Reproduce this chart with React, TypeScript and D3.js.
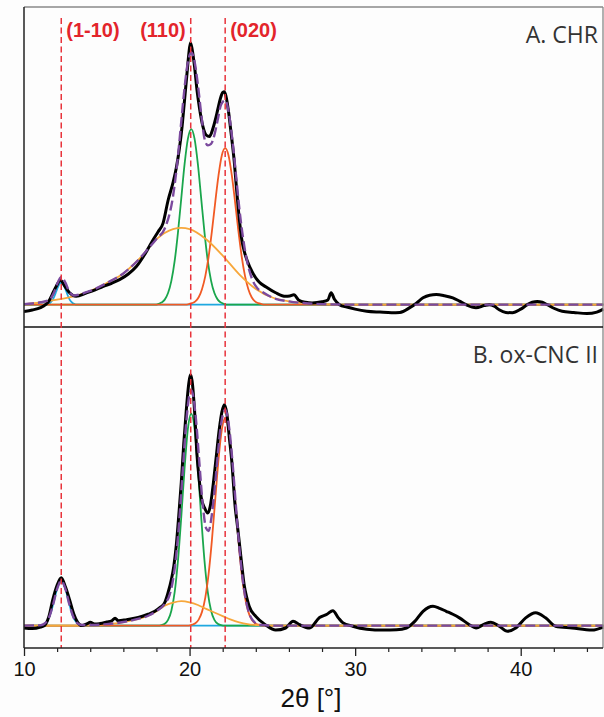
import React, { useEffect, useRef } from "react";
import * as d3 from "d3";

// 2θ positions of the lattice planes and their labels
const planeLabels = ["(1-10)", "(110)", "(020)"];
const planePositions = [12.25, 20.07, 22.15];

const majorTicks = [10, 20, 30, 40];
const minorTicks = [12, 14, 16, 18, 22, 24, 26, 28, 32, 34, 36, 38, 42, 44];
const panelTitles = ["A. CHR", "B. ox-CNC II"];

// ---- Panel A: CHR ----
const chrData = [
  [10.0, -2.3], [10.5, -1.8], [11.0, -1.0], [11.3, 0], [11.5, 1.2], [11.7, 3.4], [11.95, 6.2], [12.2, 8.2],
  [12.45, 6.3], [12.75, 4.0], [13.15, 2.8], [13.75, 3.9], [14.3, 5.0], [14.76, 6.1], [15.3, 7.2], [15.77, 8.4],
  [16.3, 10.3], [16.8, 12.9], [17.4, 17.9], [17.8, 21.8], [18.1, 24.5], [18.4, 27.4], [18.7, 35], [19.0, 41],
  [19.2, 46], [19.4, 53], [19.55, 60], [19.7, 69], [19.85, 78], [19.95, 84], [20.05, 88], [20.15, 86],
  [20.3, 80], [20.45, 72], [20.6, 66], [20.8, 60], [21.0, 57], [21.2, 56.5], [21.4, 59], [21.55, 62],
  [21.7, 65.5], [21.85, 69], [22.0, 71.3], [22.1, 71.5], [22.2, 70], [22.35, 65], [22.5, 58], [22.7, 48],
  [22.85, 38], [23.0, 29], [23.15, 22], [23.3, 18], [23.5, 14.5], [23.8, 10.8], [24.2, 7.6], [24.6, 6.0],
  [25.2, 4.0], [25.8, 2.8], [26.05, 2.9], [26.3, 3.3], [26.6, 1.5], [27.0, 0.8], [27.4, 0.6], [28.0, 1.0],
  [28.35, 1.6], [28.55, 4.0], [28.75, 1.8], [29.05, 0], [29.5, -0.8], [30.0, -1.5], [30.7, -2.2], [31.5, -2.5],
  [32.2, -2.7], [32.7, -2.6], [33.3, -1.0], [33.7, 0.5], [34.1, 2.3], [34.5, 3.2], [34.9, 3.4], [35.4, 3.0],
  [35.9, 2.3], [36.3, 1.2], [36.7, 0], [37.3, -1.0], [37.8, -0.3], [38.1, 0], [38.4, -0.5], [38.7, -1.7],
  [39.1, -2.6], [39.5, -2.7], [40.0, -1.5], [40.4, 0], [40.7, 0.8], [41.0, 1.1], [41.3, 0.8], [41.6, 0],
  [42.0, -1.2], [42.5, -2.2], [43.2, -2.6], [44.0, -3.0], [44.6, -2.5], [45.0, -1.5],
];
const chrFit = [
  [10, 0.2], [10.5, 0.4], [11, 0.8], [11.5, 1.5], [11.8, 3.9], [12.0, 6.9], [12.25, 9.3], [12.5, 7.4],
  [12.7, 4.8], [13.0, 3.1], [13.5, 3.7], [14, 4.6], [15, 7.3], [16, 10.5], [17, 15.6], [17.5, 18.8],
  [18, 22.1], [18.5, 25.6], [19.0, 36.4], [19.3, 49.9], [19.5, 61.6], [19.7, 73], [19.9, 81.5], [20.1, 84.7],
  [20.3, 81.7], [20.5, 74], [20.7, 64.2], [20.9, 55.8], [21.1, 53.5], [21.3, 54], [21.5, 57], [21.7, 62.1],
  [21.9, 67.2], [22.15, 68.7], [22.4, 63.4], [22.6, 54.6], [22.8, 43.8], [23.0, 32.6], [23.2, 23.6], [23.4, 16.6],
  [23.6, 11.7], [23.8, 8.3], [24.0, 6.2], [24.5, 3.9], [25, 2.4], [26, 1.1], [27, 0.5], [28, 0.2], [30, 0], [45, 0],
];
const chrPeak1_10 = [
  [10, 0], [11.35, 0], [11.45, 0.2], [11.55, 0.5], [11.65, 1.0], [11.75, 1.8], [11.85, 3.0], [11.95, 4.5],
  [12.05, 5.9], [12.15, 7.0], [12.25, 7.4], [12.35, 7.0], [12.45, 5.9], [12.55, 4.5], [12.65, 3.0], [12.75, 1.8],
  [12.85, 1.0], [12.95, 0.5], [13.05, 0.2], [13.15, 0], [45, 0],
];
const chrPeak110 = [
  [10, 0], [17.9, 0], [18.1, 0.2], [18.3, 0.7], [18.5, 1.7], [18.7, 3.9], [18.9, 8.0], [19.1, 14.7],
  [19.3, 24.3], [19.5, 35.8], [19.7, 47.3], [19.9, 55.8], [20.1, 59], [20.3, 55.8], [20.5, 47.3], [20.7, 35.8],
  [20.9, 24.3], [21.1, 14.7], [21.3, 8.0], [21.5, 3.9], [21.7, 1.7], [21.9, 0.7], [22.1, 0.2], [22.3, 0], [45, 0],
];
const chrPeak020 = [
  [10, 0], [19.75, 0], [19.95, 0.2], [20.15, 0.5], [20.35, 1.1], [20.55, 2.5], [20.75, 5.2], [20.95, 9.6],
  [21.15, 16.1], [21.35, 24.7], [21.55, 34.4], [21.75, 43.5], [21.95, 50.2], [22.15, 52.6], [22.35, 50.2],
  [22.55, 43.5], [22.75, 34.4], [22.95, 24.7], [23.15, 16.1], [23.35, 9.6], [23.55, 5.2], [23.75, 2.5],
  [23.95, 1.1], [24.15, 0.5], [24.35, 0.2], [24.55, 0], [45, 0],
];
const chrAmorphous = [
  [10, 0.2], [11, 0.8], [12, 1.7], [13, 2.8], [14, 4.6], [15, 7.3], [16, 10.5], [17, 15.6], [18, 22],
  [19, 25.4], [19.5, 25.8], [20, 25.4], [21, 22], [22, 16.5], [23, 10.2], [24, 5.3], [25, 2.4], [26, 1.1],
  [27, 0.5], [28, 0.2], [30, 0], [45, 0],
];

// ---- Panel B: ox-CNC II ----
const cncData = [
  [10.0, -0.8], [10.5, -1.0], [11.0, -0.5], [11.24, 0], [11.5, 3.0], [11.74, 8.7], [12.0, 13.5], [12.25, 16],
  [12.5, 13], [12.75, 8.7], [13.0, 4.0], [13.25, 1.0], [13.5, 0], [13.8, 0.6], [14.0, 1.1], [14.3, 0.5],
  [14.6, 0.7], [15.0, 1.2], [15.3, 1.6], [15.5, 2.5], [15.7, 1.6], [16.2, 2.0], [16.9, 2.7], [17.5, 3.8],
  [17.9, 4.8], [18.2, 6.0], [18.5, 7.7], [18.7, 11], [18.9, 15.4], [19.05, 20], [19.2, 27], [19.35, 37],
  [19.5, 48], [19.65, 61], [19.8, 72], [19.95, 81], [20.05, 84], [20.15, 82], [20.3, 72], [20.45, 57],
  [20.6, 48], [20.7, 43], [20.9, 39.5], [21.1, 37.7], [21.25, 40], [21.4, 46], [21.6, 56], [21.8, 66],
  [21.95, 71.5], [22.1, 74], [22.25, 71], [22.4, 63], [22.55, 55], [22.75, 40], [22.9, 33], [23.0, 28],
  [23.15, 20.5], [23.3, 13.5], [23.45, 9.5], [23.6, 6.5], [24.0, 3.1], [24.6, 0.2], [25.2, -1.5], [25.8, -0.8],
  [26.25, 1.5], [26.65, 0.3], [27.25, -0.8], [27.85, 2.7], [28.3, 3.8], [28.65, 5.0], [29.0, 2.5], [29.25, 1.0],
  [29.85, -0.2], [30.7, -1.2], [31.7, -1.5], [32.5, -1.4], [33.1, -0.8], [33.6, 1.4], [34.1, 4.8], [34.7, 6.5],
  [35.1, 5.8], [35.5, 4.8], [35.9, 3.8], [36.3, 2.6], [36.9, 0.3], [37.3, -0.8], [37.8, 0.5], [38.2, 1.1],
  [38.7, -0.2], [39.2, -1.9], [39.7, -0.8], [40.3, 2.6], [40.9, 4.3], [41.5, 2.6], [42.1, -0.2], [43.1, -0.8],
  [44.3, -1.5], [45.0, -0.5],
];
const cncFit = [
  [10, 0], [11, 0.1], [11.25, 0.7], [11.5, 2.6], [11.75, 6.9], [12.0, 12.3], [12.25, 15], [12.5, 12.3],
  [12.75, 6.9], [13.0, 2.6], [13.25, 0.7], [13.5, 0.2], [14, 0.2], [15, 0.5], [16, 1.2], [17, 2.4],
  [17.5, 3.3], [18, 4.9], [18.5, 7.3], [18.8, 10.4], [19.0, 15.3], [19.2, 23.9], [19.4, 36.8], [19.6, 52.9],
  [19.8, 68.1], [20.0, 77.6], [20.1, 78.8], [20.2, 77.4], [20.4, 68.2], [20.6, 53.9], [20.8, 40.3], [21.0, 32.6],
  [21.15, 31.7], [21.3, 35.4], [21.5, 44.9], [21.7, 57], [21.9, 67.3], [22.15, 72.3], [22.4, 65.9], [22.6, 54.3],
  [22.8, 40], [23.0, 26.6], [23.2, 15.8], [23.4, 8.5], [23.6, 4.1], [23.8, 1.9], [24.0, 0.8], [24.3, 0.2],
  [25, 0], [45, 0],
];
const cncPeak1_10 = [
  [10, 0], [10.95, 0], [11.05, 0.2], [11.15, 0.3], [11.25, 0.7], [11.35, 1.2], [11.45, 2.0], [11.55, 3.2],
  [11.65, 4.9], [11.75, 6.9], [11.85, 9.1], [11.95, 11.3], [12.05, 13.2], [12.15, 14.5], [12.25, 15],
  [12.35, 14.5], [12.45, 13.2], [12.55, 11.3], [12.65, 9.1], [12.75, 6.9], [12.85, 4.9], [12.95, 3.2],
  [13.05, 2.0], [13.15, 1.2], [13.25, 0.7], [13.35, 0.3], [13.45, 0.2], [13.55, 0], [45, 0],
];
const cncPeak110 = [
  [10, 0], [18.1, 0], [18.3, 0.2], [18.5, 0.6], [18.7, 1.9], [18.9, 5.0], [19.1, 11.2], [19.3, 21.8],
  [19.5, 36.5], [19.7, 52.8], [19.9, 66], [20.1, 71], [20.3, 66], [20.5, 52.8], [20.7, 36.5], [20.9, 21.8],
  [21.1, 11.2], [21.3, 5.0], [21.5, 1.9], [21.7, 0.6], [21.9, 0.2], [22.1, 0], [45, 0],
];
const cncPeak020 = [
  [10, 0], [19.95, 0], [20.15, 0.3], [20.35, 0.8], [20.55, 2.0], [20.75, 4.6], [20.95, 9.4], [21.15, 17.3],
  [21.35, 28.6], [21.55, 42.2], [21.75, 55.7], [21.95, 65.7], [22.15, 69.5], [22.35, 65.7], [22.55, 55.7],
  [22.75, 42.2], [22.95, 28.6], [23.15, 17.3], [23.35, 9.4], [23.55, 4.6], [23.75, 2.0], [23.95, 0.8],
  [24.15, 0.3], [24.35, 0.1], [24.55, 0], [45, 0],
];
const cncAmorphous = [
  [10, 0], [13, 0], [14, 0.2], [15, 0.5], [16, 1.2], [17, 2.4], [17.5, 3.3], [18, 4.8], [18.5, 6.7],
  [19, 7.7], [19.5, 8.2], [20, 7.8], [20.5, 6.9], [21, 5.6], [21.5, 4.4], [22, 3.2], [22.5, 2.0],
  [23, 1.1], [23.5, 0.5], [24, 0.2], [24.5, 0], [45, 0],
];

const panels = [
  { title: panelTitles[0], data: chrData, fit: chrFit, c1: chrPeak1_10, c2: chrPeak110, c3: chrPeak020, am: chrAmorphous },
  { title: panelTitles[1], data: cncData, fit: cncFit, c1: cncPeak1_10, c2: cncPeak110, c3: cncPeak020, am: cncAmorphous },
];

const App = () => {
  const ref = useRef(null);

  useEffect(() => {
    const width = 604;
    const height = 717;
    const left = 24;
    const right = 603.5;
    const top = 7;
    const mid = 327;
    const bottom = 648;

    const svg = d3.select(ref.current).attr("width", width).attr("height", height);
    svg.selectAll("*").remove();

    svg.append("rect").attr("width", width).attr("height", height).attr("fill", "#fdfdfd");

    const x = d3.scaleLinear().domain([10, 45]).range([left, right]);

    const bands = [[top, mid], [mid, bottom]];

    panels.forEach((p, i) => {
      const [y0, y1] = bands[i];
      const y = d3.scaleLinear().domain([-7.5, 100]).range([y1, y0]);

      svg.append("clipPath").attr("id", "clip" + i)
        .append("rect").attr("x", left).attr("y", y0).attr("width", right - left).attr("height", y1 - y0);

      const g = svg.append("g").attr("clip-path", `url(#clip${i})`);
      const line = d3.line().x(d => x(d[0])).y(d => y(d[1])).curve(d3.curveMonotoneX);

      // fitted components, then measured data, then total fit on top
      const comps = [
        [p.c1, "#1fa8e0"],
        [p.c2, "#1aa64c"],
        [p.c3, "#f15a24"],
        [p.am, "#f7a73b"],
      ];
      comps.forEach(([d, c]) => {
        g.append("path").attr("d", line(d)).attr("fill", "none")
          .attr("stroke", c).attr("stroke-width", 1.8);
      });

      g.append("path").attr("d", line(p.data)).attr("fill", "none")
        .attr("stroke", "#000").attr("stroke-width", 3).attr("stroke-linejoin", "round");

      g.append("path").attr("d", line(p.fit)).attr("fill", "none")
        .attr("stroke", "#7b4a9e").attr("stroke-width", 2.4).attr("stroke-dasharray", "10,4");

      svg.append("text")
        .attr("x", 598).attr("y", y0 + 36)
        .attr("text-anchor", "end")
        .style("font-family", "'Open Sans', sans-serif")
        .style("font-size", "23px")
        .attr("fill", "#333")
        .text(p.title);
    });

    // frame
    svg.append("line").attr("x1", left).attr("x2", 603).attr("y1", top).attr("y2", top)
      .attr("stroke", "#888").attr("stroke-width", 1.3);
    svg.append("line").attr("x1", 603).attr("x2", 603).attr("y1", top).attr("y2", bottom)
      .attr("stroke", "#888").attr("stroke-width", 1.3);
    svg.append("line").attr("x1", left).attr("x2", 603).attr("y1", mid).attr("y2", mid)
      .attr("stroke", "#111").attr("stroke-width", 1.5);
    svg.append("line").attr("x1", left).attr("x2", left).attr("y1", top).attr("y2", bottom)
      .attr("stroke", "#222").attr("stroke-width", 1.5);

    // plane markers
    planePositions.forEach((v, i) => {
      svg.append("line")
        .attr("x1", x(v)).attr("x2", x(v)).attr("y1", 18).attr("y2", bottom)
        .attr("stroke", "#e8343c").attr("stroke-width", 1.5).attr("stroke-dasharray", "6,3.5");
      svg.append("text")
        .attr("x", i === 1 ? x(v) - 5 : x(v) + 5)
        .attr("y", 37)
        .attr("text-anchor", i === 1 ? "end" : "start")
        .style("font-family", "'Liberation Sans', Arial, sans-serif")
        .style("font-size", "20px")
        .style("font-weight", "bold")
        .attr("fill", "#e3242b")
        .text(planeLabels[i]);
    });

    // x axis
    const axis = svg.append("g").attr("transform", `translate(0,${bottom})`)
      .call(d3.axisBottom(x).tickValues(majorTicks).tickSize(8).tickPadding(6).tickFormat(d3.format("d")));
    axis.select(".domain").remove();
    axis.selectAll("line").attr("stroke", "#222").attr("stroke-width", 1.3);
    axis.selectAll("text")
      .style("font-family", "'Liberation Sans', Arial, sans-serif")
      .style("font-size", "20px")
      .attr("fill", "#111");

    const minor = svg.append("g").attr("transform", `translate(0,${bottom})`)
      .call(d3.axisBottom(x).tickValues(minorTicks).tickSize(4).tickFormat(() => ""));
    minor.select(".domain").remove();
    minor.selectAll("line").attr("stroke", "#222").attr("stroke-width", 1.2);

    svg.append("line").attr("x1", left).attr("x2", 603).attr("y1", bottom).attr("y2", bottom)
      .attr("stroke", "#222").attr("stroke-width", 1.5);

    svg.append("text")
      .attr("x", 311).attr("y", 707)
      .attr("text-anchor", "middle")
      .style("font-family", "'Liberation Sans', Arial, sans-serif")
      .style("font-size", "26px")
      .attr("fill", "#111")
      .text("2θ [°]");
  }, []);

  return <svg ref={ref} style={{ position: "absolute", left: 0, top: 0 }}></svg>;
};

export default App;
